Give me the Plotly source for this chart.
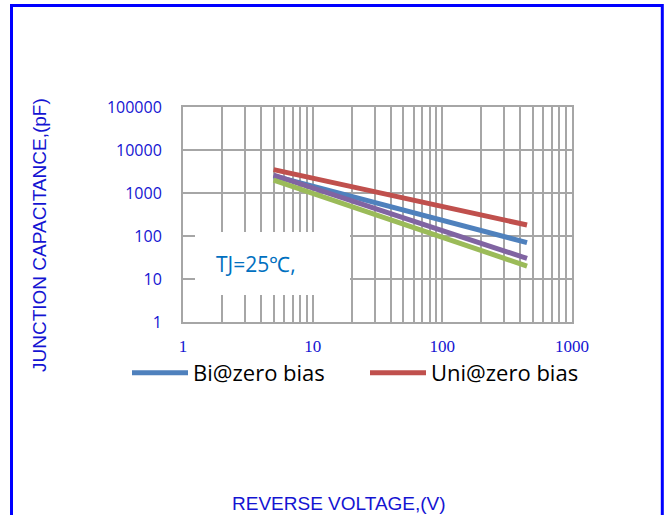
import plotly.graph_objects as go

# Data
voltage = [5, 450]
bi_zero = [2500, 70]
uni_zero = [3500, 180]
series_purple = [2600, 30]
series_green = [2000, 20]

x_major = [1, 10, 100, 1000]
x_major_text = ["1", "10", "100", "1000"]
x_minor = [m * d for d in [1, 10, 100] for m in range(2, 10)]
y_major = [1, 10, 100, 1000, 10000, 100000]
y_major_text = ["1", "10", "100", "1000", "10000", "100000"]

W, H = 669, 515
L, R, T, B = 183, 572, 107, 322
pw, ph = R - L, B - T

def px(xp):
    return (xp - L) / pw

def py(yp):
    return (B - yp) / ph

fig = go.Figure()
fig.add_trace(go.Scatter(x=voltage, y=bi_zero, mode="lines", name="Bi@zero bias",
                         line=dict(color="#4F81BD", width=5)))
fig.add_trace(go.Scatter(x=voltage, y=uni_zero, mode="lines", name="Uni@zero bias",
                         line=dict(color="#C0504D", width=5)))
fig.add_trace(go.Scatter(x=voltage, y=series_purple, mode="lines", name="Series 3",
                         showlegend=False, line=dict(color="#8064A2", width=5)))
fig.add_trace(go.Scatter(x=voltage, y=series_green, mode="lines", name="Series 4",
                         showlegend=False, line=dict(color="#9BBB59", width=5)))

grid = "#A6A6A6"
fig.update_xaxes(type="log", range=[0, 3], tickvals=x_major, ticktext=x_major_text,
                 showgrid=True, gridcolor=grid, gridwidth=1.5,
                 minor=dict(tickvals=x_minor, showgrid=True, gridcolor=grid, gridwidth=1.5, ticks=""),
                 showline=True, linecolor=grid, linewidth=2, mirror=True, zeroline=False,
                 ticks="outside", ticklen=8, tickcolor="rgba(0,0,0,0)",
                 tickfont=dict(family="Liberation Serif", size=17, color="#1414D2"))
fig.update_yaxes(type="log", range=[0, 5], tickvals=y_major, ticktext=y_major_text,
                 showgrid=True, gridcolor=grid, gridwidth=1.5,
                 showline=True, linecolor=grid, linewidth=2, mirror=True, zeroline=False,
                 ticks="outside", ticklen=16, tickcolor="rgba(0,0,0,0)",
                 tickfont=dict(family="Open Sans", size=16, color="#1414D2"))

# White label box with temperature note
fig.add_shape(type="rect", xref="paper", yref="paper",
              x0=px(195), x1=px(350), y0=py(295), y1=py(232),
              fillcolor="white", line=dict(width=0), layer="above")
fig.add_annotation(xref="paper", yref="paper", x=px(214), y=py(264), xanchor="left",
                   yanchor="middle", text="TJ=25℃,", showarrow=False,
                   font=dict(family="Open Sans", size=21, color="#0070C0"))

# Axis titles
fig.add_annotation(xref="paper", yref="paper", x=px(39), y=py(235), text="JUNCTION CAPACITANCE,(pF)",
                   textangle=-90, showarrow=False, xanchor="center", yanchor="middle",
                   font=dict(family="Liberation Sans", size=19, color="#1414D2"))
fig.add_annotation(xref="paper", yref="paper", x=px(339), y=py(503), text="REVERSE VOLTAGE,(V)",
                   showarrow=False, xanchor="center", yanchor="middle",
                   font=dict(family="Liberation Sans", size=19, color="#1414D2"))

# Outer blue frame
fig.add_shape(type="rect", xref="paper", yref="paper",
              x0=px(11.5), x1=px(662.3), y0=py(560), y1=py(5.5),
              line=dict(color="#0000FF", width=3), fillcolor="rgba(0,0,0,0)")

fig.update_layout(
    width=W, height=H,
    margin=dict(l=L, r=W - R, t=T, b=H - B),
    paper_bgcolor="white", plot_bgcolor="white",
    showlegend=True,
    legend=dict(orientation="h", x=px(127), y=py(373), xanchor="left", yanchor="middle",
                itemwidth=56, font=dict(family="Open Sans", size=22, color="#000000"),
                bgcolor="rgba(0,0,0,0)", tracegroupgap=0, entrywidth=167),
)

fig.write_html("out.html", config={"displayModeBar": False},
               post_script="document.body.style.margin='0';document.body.style.overflow='hidden';")
